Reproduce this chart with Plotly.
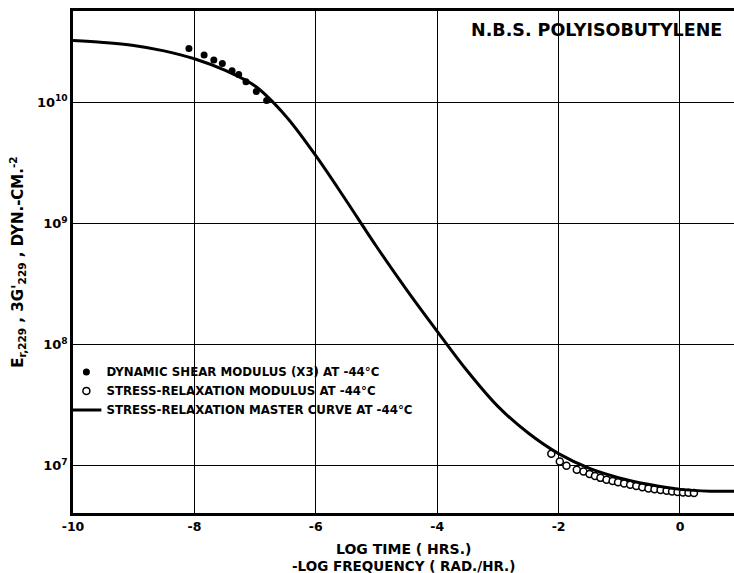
import plotly.graph_objects as go

# Stress-relaxation master curve at -44 C (log time hrs, log modulus)
curve_x = [-10, -9.5, -9, -8.5, -8, -7.5, -7, -6.5, -6, -5.5, -5, -4.5, -4, -3.5,
           -3, -2.5, -2, -1.5, -1, -0.5, 0, 0.5, 0.89]
curve_logE = [10.51, 10.495, 10.47, 10.425, 10.36, 10.265, 10.135, 9.89, 9.56, 9.19,
              8.81, 8.45, 8.11, 7.78, 7.49, 7.27, 7.10, 6.98, 6.90, 6.845, 6.805, 6.79, 6.79]

# Dynamic shear modulus (x3) at -44 C
dyn_x = [-8.09, -7.84, -7.68, -7.54, -7.38, -7.27, -7.15, -6.98, -6.81]
dyn_logE = [10.445, 10.39, 10.35, 10.32, 10.26, 10.23, 10.17, 10.09, 10.016]

# Stress-relaxation modulus at -44 C
sr_x = [-2.12, -1.98, -1.87, -1.70, -1.59, -1.49, -1.40, -1.31, -1.21, -1.11, -1.02, -0.92,
        -0.82, -0.72, -0.62, -0.52, -0.42, -0.32, -0.22, -0.13, -0.04, 0.05, 0.14, 0.23]
sr_logE = [7.10, 7.035, 7.00, 6.967, 6.953, 6.932, 6.915, 6.90, 6.885, 6.874, 6.864, 6.853,
           6.843, 6.833, 6.822, 6.812, 6.806, 6.80, 6.794, 6.788, 6.783, 6.780, 6.777, 6.775]

x_ticks = [-10, -8, -6, -4, -2, 0]
y_tickvals = [1e7, 1e8, 1e9, 1e10]
y_ticktext = ["10<sup>7</sup>", "10<sup>8</sup>", "10<sup>9</sup>", "10<sup>10</sup>"]

FONT = "DejaVu Sans"

fig = go.Figure()
fig.add_trace(go.Scatter(
    x=dyn_x, y=[10 ** v for v in dyn_logE], mode="markers",
    name="DYNAMIC SHEAR MODULUS (X3) AT -44°C",
    marker=dict(symbol="circle", size=7, color="black"),
))
fig.add_trace(go.Scatter(
    x=sr_x, y=[10 ** v for v in sr_logE], mode="markers",
    name="STRESS-RELAXATION MODULUS AT -44°C",
    marker=dict(symbol="circle", size=7, color="white", line=dict(color="black", width=1.5)),
))
fig.add_trace(go.Scatter(
    x=curve_x, y=[10 ** v for v in curve_logE], mode="lines",
    name="STRESS-RELAXATION MASTER CURVE AT -44°C",
    line=dict(color="black", width=3, shape="spline", smoothing=1.0),
))

fig.update_layout(
    width=734, height=573,
    margin=dict(l=73, r=0, t=11, b=60),
    paper_bgcolor="white", plot_bgcolor="white",
    font=dict(family=FONT, color="black", size=12, weight="bold"),
    showlegend=True,
    legend=dict(x=-0.01, y=0.31, xanchor="left", yanchor="top",
                bgcolor="rgba(0,0,0,0)", font=dict(size=11.8, family=FONT, weight="bold"),
                itemwidth=30, tracegroupgap=0),
    annotations=[
        dict(text="N.B.S. POLYISOBUTYLENE", xref="paper", yref="paper", x=0.985, y=0.962,
             xanchor="right", yanchor="middle", showarrow=False,
             font=dict(size=17.5, family=FONT, weight="bold")),
        dict(text="LOG TIME ( HRS.)", xref="paper", yref="paper", x=0.5, y=-0.071,
             xanchor="center", yanchor="middle", showarrow=False,
             font=dict(size=14, family=FONT, weight="bold")),
        dict(text="-LOG FREQUENCY ( RAD./HR.)", xref="paper", yref="paper", x=0.5, y=-0.105,
             xanchor="center", yanchor="middle", showarrow=False,
             font=dict(size=13.5, family=FONT, weight="bold")),
    ],
)

fig.update_xaxes(
    range=[-10, 0.89], tickvals=x_ticks, ticktext=[str(v) for v in x_ticks],
    showgrid=True, gridcolor="black", gridwidth=1, zeroline=False,
    showline=True, linecolor="black", linewidth=2.5, mirror=True,
    ticks="", tickfont=dict(size=12.5, family=FONT, weight="bold"),
)
fig.update_yaxes(
    type="log", range=[6.61, 10.754], tickvals=y_tickvals, ticktext=y_ticktext,
    showgrid=True, gridcolor="black", gridwidth=1, zeroline=False,
    showline=True, linecolor="black", linewidth=2.5, mirror=False,
    ticks="", tickfont=dict(size=13, family=FONT, weight="bold"),
    title=dict(text="E<sub>r,229</sub> , 3G'<sub>229</sub> , DYN.-CM.<sup>-2</sup>",
               font=dict(size=15, family=FONT, weight="bold"), standoff=10),
)

fig.write_html("out.html")
